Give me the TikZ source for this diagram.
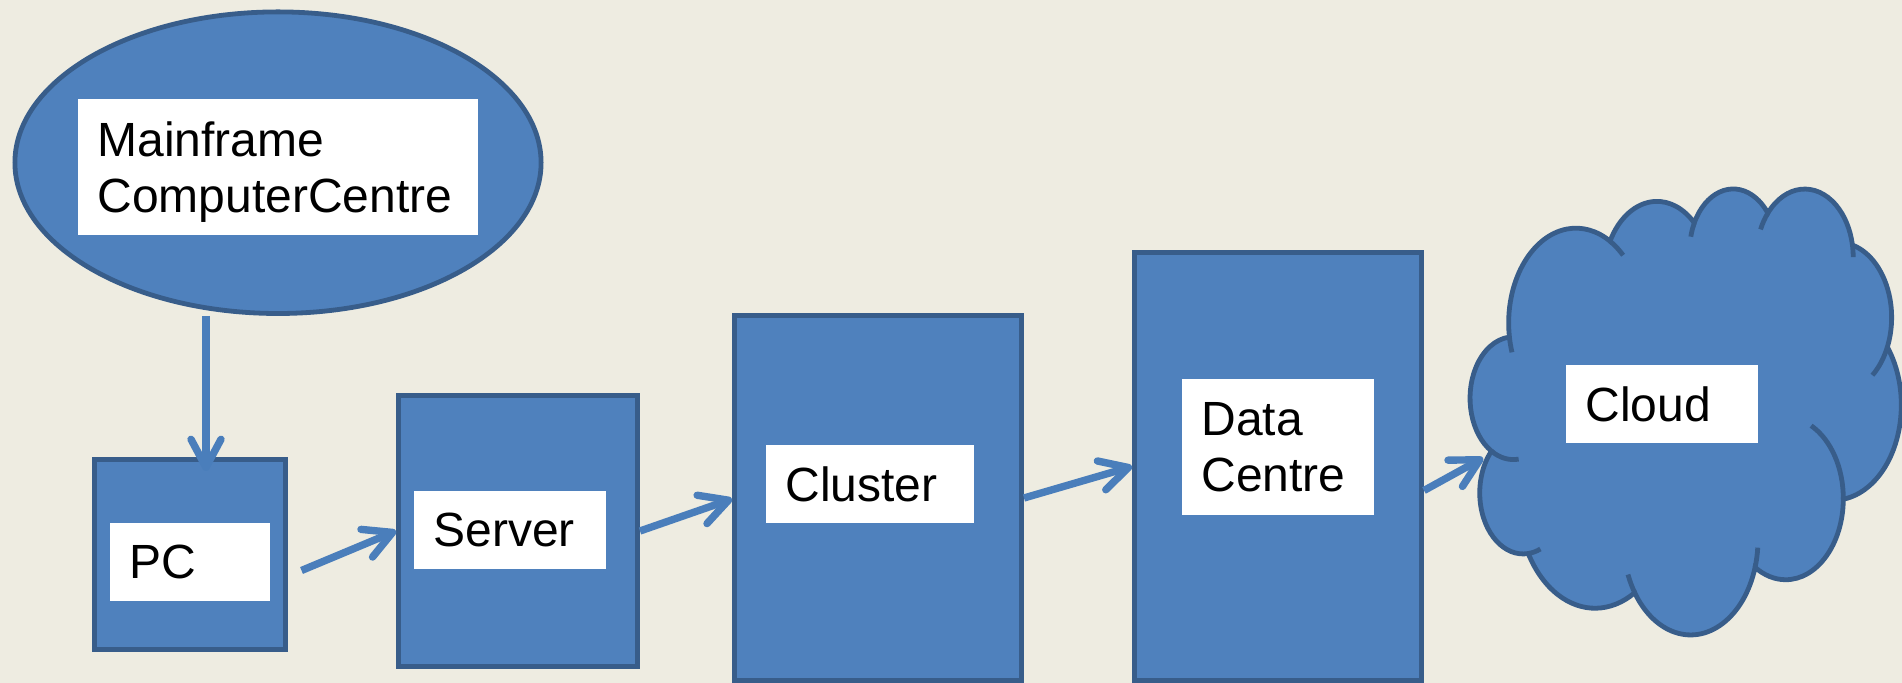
\documentclass[tikz,border=0pt]{standalone}
\usepackage{fontspec}
\setmainfont{Liberation Sans}
\usetikzlibrary{shapes.geometric,arrows.meta}

\definecolor{paper}{HTML}{EEECE1}
\definecolor{blockfill}{HTML}{4F81BD}
\definecolor{blockline}{HTML}{385D8A}
\definecolor{flowline}{HTML}{4A7EBB}

\newcommand\tagfont{\fontsize{24}{28}\selectfont}
\newcommand\cloudfold[6]{
  \draw ([shift={(#3:#4 and #5)}]#1, #2) arc[start angle=#3, end angle=#6, x radius=#4, y radius=#5] ;
}

\tikzset{
  block/.style={draw=blockline, fill=blockfill, line width=2.4pt, inner sep=0pt},
  tag/.style={fill=white, inner xsep=9.8pt, inner ysep=0pt, align=left, font=\tagfont,
    text depth=0pt, minimum height=39pt},
  twotag/.style={tag, text depth=28pt, minimum height=68pt},
  flow/.style={draw=flowline, line width=3.7pt, -{Straight Barb[length=14pt, width=15pt, round]}},
}

\begin{document}
\begin{tikzpicture}[x=0.5pt, y=-0.5pt]
  \useasboundingbox (0,0) rectangle (1902,683);
  \fill[paper] (0,0) rectangle (1902,683);

  \node[block, ellipse, minimum width=263.1pt, minimum height=150.8pt] (mainframe) at (278,162.7) {};
  \node[twotag, text width=180.4pt] (mainframetag) at (278,167) {Mainframe\\ComputerCentre};

  \node[block, minimum width=95.6pt, minimum height=95.1pt] (pc) at (190,554.5) {};
  \node[tag, text width=60.4pt] (pctag) at (190,562) {PC};

  \node[block, minimum width=119.6pt, minimum height=135.6pt] (server) at (518,531) {};
  \node[tag, text width=76.4pt] (servertag) at (510,530) {Server};

  \node[block, minimum width=143.6pt, minimum height=182.6pt] (cluster) at (878,498) {};
  \node[tag, text width=84.4pt] (clustertag) at (870,484) {Cluster};

  \node[block, minimum width=143.6pt, minimum height=214.1pt] (dc) at (1278,466.5) {};
  \node[twotag, text width=76.4pt] (dctag) at (1278,447) {Data\\Centre};

  \begin{scope}[shift={(1470.4,187.5)}, x=1pt, y=1pt, xscale=0.4985, yscale=-0.516,
      draw=blockline, line width=2.4pt]
    \filldraw[fill=blockfill] (39.00,143.70)
      arc[start angle=-187.75, end angle=-59.63, x radius=67.53, y radius=91.90]
      arc[start angle=-152.02, end angle=-45.45, x radius=53.33, y radius=72.67]
      arc[start angle=-153.48, end angle=-37.33, x radius=43.65, y radius=59.45]
      arc[start angle=-139.72, end angle=-10.21, x radius=48.57, y radius=65.95]
      arc[start angle=-74.77, end angle=23.21, x radius=53.33, y radius=72.73]
      arc[start angle=-37.52, end angle=81.86, x radius=67.75, y radius=92.20]
      arc[start angle=0.46, end angle=122.02, x radius=57.85, y radius=78.67]
      arc[start angle=16.84, end angle=146.22, x radius=67.52, y radius=92.15]
      arc[start angle=59.00, end angle=150.19, x radius=77.20, y radius=105.43]
      arc[start angle=83.31, end angle=223.11, x radius=43.60, y radius=59.18]
      arc[start angle=120.36, end angle=264.11, x radius=43.45, y radius=59.45]
      -- cycle;
    \cloudfold{105.91}{131.31}{162}{67.53}{91.90}{172.25}
    \cloudfold{105.91}{131.31}{-59.63}{67.53}{91.90}{-45.6}
    \cloudfold{263.62}{60.86}{-167.2}{43.65}{59.45}{-153.48}
    \cloudfold{335.38}{67.45}{-156}{48.57}{65.95}{-139.72}
    \cloudfold{335.38}{67.45}{-10.21}{48.57}{65.95}{0}
    \cloudfold{369.17}{125.94}{23.21}{53.33}{72.73}{50.3}
    \cloudfold{316.18}{301.39}{-63.8}{57.85}{78.67}{0.46}
    \cloudfold{220.92}{341.42}{4.7}{67.52}{92.15}{16.84}
    \cloudfold{220.92}{341.42}{146.22}{67.52}{92.15}{158.6}
    \cloudfold{52.96}{295.93}{66.7}{43.60}{59.18}{83.31}
    \cloudfold{43.09}{204.19}{83}{43.45}{59.45}{120.36}
  \end{scope}
  \node[tag, text width=76.4pt] (cloudtag) at (1662,404) {Cloud};
  \coordinate (cloudin) at (1483,458);

  \draw[flow] ([xshift=-36pt]mainframe.south) -- ([xshift=8pt, yshift=-7pt]pc.north);
  \draw[flow] ([xshift=6.75pt, yshift=-8pt]pc.east) -- (server.west);
  \draw[flow] (server.east) -- ([yshift=-0.5pt]cluster.west);
  \draw[flow] (cluster.east) -- (dc.west);
  \draw[flow] ([yshift=-12pt]dc.east) -- (cloudin);
\end{tikzpicture}
\end{document}
